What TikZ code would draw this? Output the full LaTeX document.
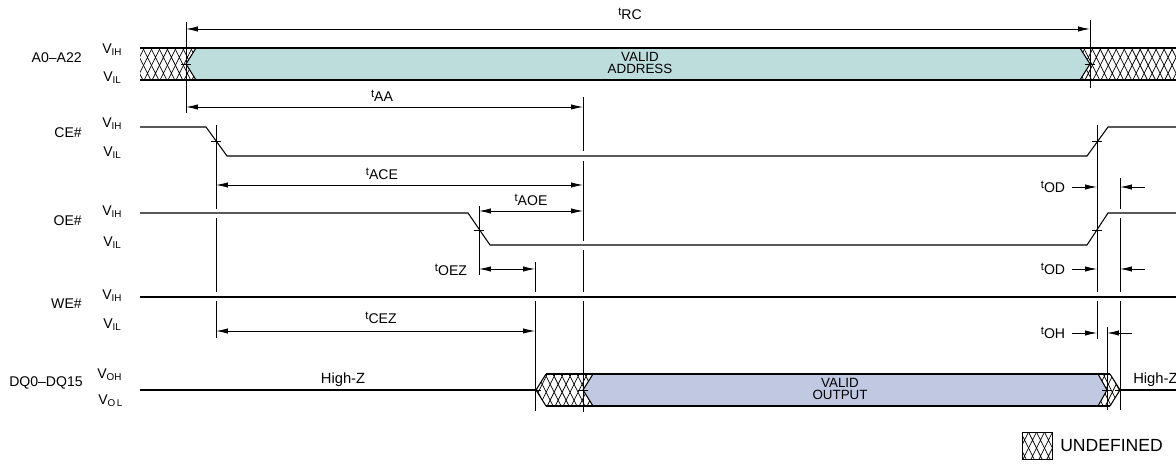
\documentclass[tikz,border=0pt]{standalone}
\usepackage{fontspec}
\setmainfont{Liberation Sans}
\usepackage{tikz}
\usetikzlibrary{arrows.meta}
\usetikzlibrary{patterns.meta}

\definecolor{addrfill}{RGB}{189,220,220}
\definecolor{outfill}{RGB}{192,200,226}

\newcommand{\tparam}[1]{\raisebox{3pt}{\fontsize{8}{8}\selectfont t}#1}

\tikzdeclarepattern{
  name=undefhatch,
  type=uncolored,
  bottom left={(-.5pt,-.5pt)},
  top right={(6.17pt,11.84pt)},
  tile size={(5.67pt,11.34pt)},
  code={
    \draw[line width=.5pt] (0,0) -- (5.67pt,11.34pt)
      (0,11.34pt) -- (5.67pt,0);
  }
}

\begin{document}
\begin{tikzpicture}[x=0.025cm,y=-0.025cm,
				sig/.style={line width=0.75pt,line join=miter},
				guide/.style={line width=0.7pt},
				dim/.style={line width=0.6pt,-{Latex[length=8.5pt,width=3.8pt]}},
				dimboth/.style={line width=0.6pt,{Latex[length=8.5pt,width=3.8pt]}-{Latex[length=8.5pt,width=3.8pt]}},
				crosstick/.style={line width=0.5pt},
				undef/.style={pattern=undefhatch,pattern color=black},
				lvl/.style={font=\fontsize{10}{11}\selectfont,anchor=west,inner sep=0pt},
				signame/.style={font=\fontsize{10}{11}\selectfont,anchor=east,inner sep=0pt},
				tlabel/.style={font=\fontsize{10}{11}\selectfont,inner sep=0pt},
				buslabel/.style={font=\fontsize{9.5}{11}\selectfont,align=center,inner sep=0pt}]
				
				\useasboundingbox (0,0) rectangle (1176,464);
				
				% signal names and levels
				\node[signame] (addr) at (82,58) {A0--A22};
				\node[lvl] (addrH) at (102,50) {V\textsubscript{IH}};
				\node[lvl] (addrL) at (103,78) {V\textsubscript{IL}};
				\node[signame] (ce) at (82,133) {CE\#};
				\node[lvl] (ceH) at (102,124) {V\textsubscript{IH}};
				\node[lvl] (ceL) at (103,153) {V\textsubscript{IL}};
				\node[signame] (oe) at (82,221) {OE\#};
				\node[lvl] (oeH) at (102,212) {V\textsubscript{IH}};
				\node[lvl] (oeL) at (103,243) {V\textsubscript{IL}};
				\node[signame] (we) at (82,304) {WE\#};
				\node[lvl] (weH) at (102,296) {V\textsubscript{IH}};
				\node[lvl] (weL) at (103,325) {V\textsubscript{IL}};
				\node[signame] (dq) at (83,383) {DQ0--DQ15};
				\node[lvl] (dqH) at (97,375) {V\textsubscript{OH}};
				\node[lvl] (dqL) at (98,401) {V\textsubscript{O\,L}};
				
				% address bus
				\fill[undef] (140,48) -- (196,48) -- (186,64) -- (196,80) -- (140,80) -- cycle;
				\fill[undef] (1080,48) -- (1176,48) -- (1176,80) -- (1080,80) -- (1090,64) -- cycle;
				\fill[addrfill] (186,64) -- (196,48) -- (1080,48) -- (1090,64) -- (1080,80) -- (196,80) -- cycle;
				\draw[sig] (140,48) -- (1176,48) (140,80) -- (1176,80);
				\draw[sig] (196,48) -- (186,64) -- (196,80) (1080,48) -- (1090,64) -- (1080,80);
				\node[buslabel] (vaddr) at (640,63) {VALID\\[-2pt]ADDRESS};
				
				% control lines
				\draw[sig] (140,127) -- (206,127) -- (227,156) -- (1087,156) -- (1108,127) -- (1176,127);
				\draw[sig] (140,213) -- (468,213) -- (490,245) -- (1087,245) -- (1108,213) -- (1176,213);
				\draw[sig] (140,297) -- (1176,297);
				
				% data bus
				\draw[sig] (140,390) -- (536,390);
				\fill[undef] (536,390) -- (546,374) -- (593,374) -- (583,390) -- (593,406) -- (546,406) -- cycle;
				\fill[undef] (1098,374) -- (1110,374) -- (1120,390) -- (1110,406) -- (1098,406) -- (1107,390) -- cycle;
				\fill[outfill] (583,390) -- (593,374) -- (1098,374) -- (1107,390) -- (1098,406) -- (593,406) -- cycle;
				\draw[sig] (546,374) -- (1110,374) (546,406) -- (1110,406);
				\draw[sig] (546,374) -- (536,390) -- (546,406)
				(593,374) -- (583,390) -- (593,406)
				(1098,374) -- (1107,390) -- (1098,406)
				(1110,374) -- (1120,390) -- (1110,406);
				\draw[sig] (1120,390) -- (1176,390);
				\node[tlabel,font=\fontsize{10.5}{12}\selectfont] (hizL) at (343,380) {High-Z};
				\node[tlabel,font=\fontsize{10.5}{12}\selectfont,anchor=west] (hizR) at (1133,380) {High-Z};
				\node[buslabel] (vout) at (840,389) {VALID\\[-2pt]OUTPUT};
				
				% timing guides
				\draw[guide] (186,22) -- (186,113);
				\draw[guide] (1090,20) -- (1090,88);
				\draw[guide] (216,125) -- (216,209) (216,218) -- (216,292) (216,301) -- (216,338);
				\draw[guide] (479,206) -- (479,275);
				\draw[guide] (535,262) -- (535,292) (535,301) -- (535,411);
				\draw[guide] (583,97) -- (583,151) (583,161) -- (583,241) (583,250) -- (583,292) (583,301) -- (583,412);
				\draw[guide] (1097,125) -- (1097,292) (1097,301) -- (1097,339);
				\draw[guide] (1120,178) -- (1120,209) (1120,218) -- (1120,292) (1120,301) -- (1120,410);
				\draw[guide] (1107,327) -- (1107,410);
				
				% crossing ticks
				\foreach \cx/\cy in {186/64,1090/64,216/141,1097/141,479/230,1097/230,536/390,583/390,1107/390,1120/390}
				\draw[crosstick] (\cx-5,\cy) -- (\cx+5,\cy);
				
				% timing arrows
				\coordinate (rcL) at (186,29);
				\coordinate (rcR) at (1090,29);
				\draw[dimboth] (rcL) -- (rcR);
				\node[tlabel] (trc) at (630,14) {\tparam{RC}};
				
				\coordinate (aaL) at (186,107);
				\coordinate (aaR) at (583,107);
				\draw[dimboth] (aaL) -- (aaR);
				\node[tlabel] (taa) at (382,96) {\tparam{AA}};
				
				\coordinate (aceL) at (216,185);
				\coordinate (aceR) at (583,185);
				\draw[dimboth] (aceL) -- (aceR);
				\node[tlabel] (tace) at (382,174) {\tparam{ACE}};
				
				\coordinate (aoeL) at (479,211);
				\coordinate (aoeR) at (583,211);
				\draw[dimboth] (aoeL) -- (aoeR);
				\node[tlabel] (taoe) at (531,200) {\tparam{AOE}};
				
				\coordinate (oezL) at (479,269);
				\coordinate (oezR) at (535,269);
				\draw[dimboth] (oezL) -- (oezR);
				\node[tlabel] (toez) at (451,270) {\tparam{OEZ}};
				
				\coordinate (cezL) at (216,331);
				\coordinate (cezR) at (535,331);
				\draw[dimboth] (cezL) -- (cezR);
				\node[tlabel] (tcez) at (381,318) {\tparam{CEZ}};
				
				\coordinate (odA) at (1072,187);
				\coordinate (odB) at (1097,187);
				\coordinate (odC) at (1145,187);
				\coordinate (odD) at (1120,187);
				\draw[dim] (odA) -- (odB);
				\draw[dim] (odC) -- (odD);
				\node[tlabel] (tod) at (1053,187) {\tparam{OD}};
				
				\coordinate (odE) at (1072,269);
				\coordinate (odF) at (1097,269);
				\coordinate (odG) at (1145,269);
				\coordinate (odH) at (1120,269);
				\draw[dim] (odE) -- (odF);
				\draw[dim] (odG) -- (odH);
				\node[tlabel] (todb) at (1053,269) {\tparam{OD}};
				
				\coordinate (ohA) at (1072,333);
				\coordinate (ohB) at (1097,333);
				\coordinate (ohC) at (1132,333);
				\coordinate (ohD) at (1107,333);
				\draw[dim] (ohA) -- (ohB);
				\draw[dim] (ohC) -- (ohD);
				\node[tlabel] (toh) at (1053,333) {\tparam{OH}};
				
				% legend
				\filldraw[undef,line width=0.6pt] (1022,432) rectangle (1052,459);
				\node[tlabel,font=\fontsize{12.5}{14}\selectfont,anchor=west] (legend) at (1060,446) {UNDEFINED};
			\end{tikzpicture}
\end{document}
